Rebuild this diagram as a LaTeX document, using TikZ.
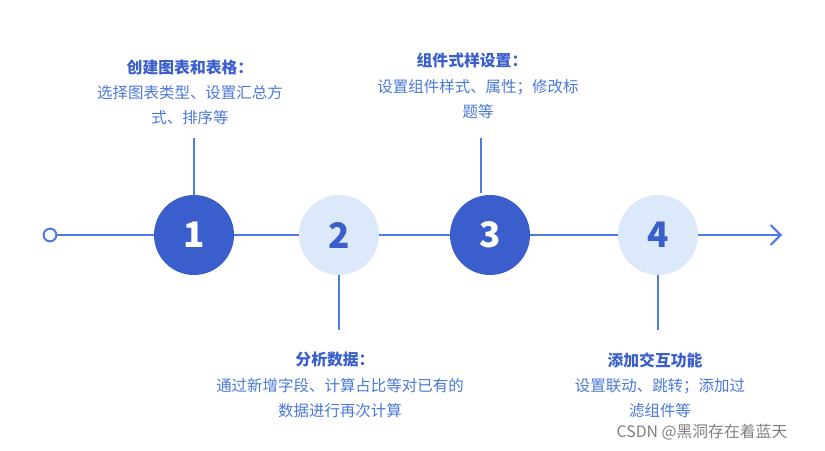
\documentclass[tikz,border=0pt]{standalone}
\usepackage{fontspec}
\setmainfont{Noto Sans CJK SC}
\usetikzlibrary{positioning,arrows.meta}
\definecolor{deepblue}{HTML}{3A5FCD}
\definecolor{paleblue}{HTML}{DCE9FB}
\definecolor{textblue}{HTML}{4A78DA}
\definecolor{lineblue}{HTML}{4D7BE3}
\tikzset{
  link/.style={draw=lineblue, line width=0.6mm},
  darkstep/.style={circle, fill=deepblue, draw=none, minimum size=2.4cm, text=white, font=\bfseries\fontsize{30}{30}\selectfont},
  lightstep/.style={circle, fill=paleblue, draw=none, minimum size=2.4cm, text=deepblue, font=\bfseries\fontsize{30}{30}\selectfont},
  headline/.style={text=deepblue, font=\bfseries\fontsize{13.5}{16}\selectfont, inner sep=0pt},
  bodyline/.style={text=textblue, font=\fontsize{13.2}{16}\selectfont, inner sep=0pt}
}

\begin{document}
\begin{tikzpicture}[x=0.03cm, y=-0.03cm]
  \useasboundingbox (0,0) rectangle (825,450);
  % Nodes
  \node (start) [circle, link, fill=white, minimum size=0.38cm, inner sep=0pt] at (50,235) {};
  \coordinate (finish) at (782,235);
  \draw[link, -{Straight Barb[length=3mm, width=6mm]}] (start) -- (finish);
  \node (one) [darkstep] at (194,235) {1};
  \node (two) [lightstep] at (339,235) {2};
  \node (three) [darkstep] at (490,235) {3};
  \node (four) [lightstep] at (658,235) {4};

  \coordinate (oneup) at (194,138);
  \coordinate (twodown) at (339,330);
  \coordinate (threeup) at (481,138);
  \coordinate (threefoot) at (481,193);
  \coordinate (fourdown) at (658,330);
  \draw[link] (one) -- (oneup);
  \draw[link] (two) -- (twodown);
  \draw[link] (threeup) -- (threefoot);
  \draw[link] (four) -- (fourdown);

  % Texts
  \node (title1) [headline] at (190,67) {创建图表和表格：};
  \node (body1a) [bodyline] at (190,93) {选择图表类型、设置汇总方};
  \node (body1b) [bodyline] at (190,118) {式、排序等};
  \node (title3) [headline] at (472,60) {组件式样设置：};
  \node (body3a) [bodyline] at (478,87) {设置组件样式、属性；修改标};
  \node (body3b) [bodyline] at (478,112) {题等};
  \node (title2) [headline] at (335,360) {分析数据：};
  \node (body2a) [bodyline] at (340,386) {通过新增字段、计算占比等对已有的};
  \node (body2b) [bodyline] at (340,411) {数据进行再次计算};
  \node (title4) [headline] at (655,360) {添加交互功能};
  \node (body4a) [bodyline] at (660,386) {设置联动、跳转；添加过};
  \node (body4b) [bodyline] at (660,411) {滤组件等};
  \node (mark) [text=gray, font=\fontsize{13.5}{14}\selectfont, inner sep=0pt] at (702,432) {CSDN @黑洞存在着蓝天};
\end{tikzpicture}
\end{document}
